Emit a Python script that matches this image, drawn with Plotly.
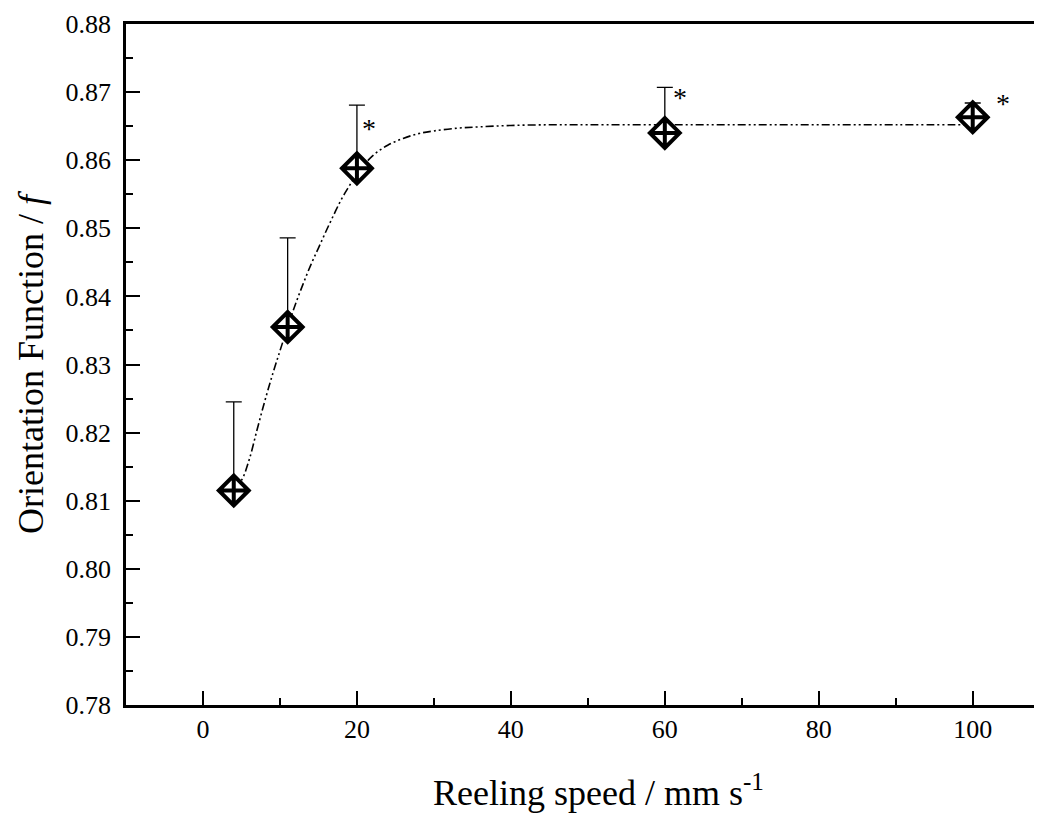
import plotly.graph_objects as go

# Measured data points
speed = [4, 11, 20, 60, 100]
orient = [0.8115, 0.8355, 0.8588, 0.8640, 0.8663]
err_up = [0.0130, 0.0131, 0.0093, 0.0067, 0.0021]

# Fit curve
fit_x = [4, 5, 6, 7, 8, 9, 10, 11, 12, 13, 14, 15, 16, 17, 18, 19, 20,
         22, 24, 26, 28, 30, 33, 36, 40, 45, 50, 60, 70, 80, 90, 100]
fit_y = [0.8118, 0.8130, 0.8160, 0.8203, 0.8245, 0.8284, 0.8320, 0.8355,
         0.8388, 0.8418, 0.8446, 0.8471, 0.8496, 0.8520, 0.8543, 0.8562,
         0.8580, 0.8606, 0.8622, 0.8632, 0.8639, 0.8643, 0.8647, 0.8649,
         0.8651, 0.8652, 0.8652, 0.8652, 0.8652, 0.8652, 0.8652, 0.8652]

# Significance markers
star_x = [21.6, 62.0, 103.9]
star_y = [0.8647, 0.8692, 0.8683]
star_text = ["*", "*", "*"]

y_ticks = [0.78, 0.79, 0.80, 0.81, 0.82, 0.83, 0.84, 0.85, 0.86, 0.87, 0.88]
x_ticks = [0, 20, 40, 60, 80, 100]

FONT = "Liberation Serif, Times New Roman, serif"
TICKFONT = dict(family=FONT, size=26, color="#000000")
TITLEFONT = dict(family=FONT, size=36, color="#000000")

fig = go.Figure()
fig.add_trace(go.Scatter(
    x=fit_x, y=fit_y, mode="lines",
    line=dict(color="black", width=1.6, shape="spline",
              dash="8px,3px,2px,3px,2px,3px"),
    hoverinfo="skip", showlegend=False))

fig.add_trace(go.Scatter(
    x=speed, y=orient, mode="markers",
    marker=dict(symbol="diamond-cross", size=23, color="white",
                line=dict(color="black", width=4)),
    error_y=dict(type="data", symmetric=False, array=err_up,
                 arrayminus=[0] * len(err_up), color="black",
                 thickness=1.3, width=8),
    showlegend=False))

for sx, sy, st in zip(star_x, star_y, star_text):
    fig.add_annotation(x=sx, y=sy, text=st, showarrow=False,
                       font=dict(family=FONT, size=28, color="#000000"))

# x-axis title (placed slightly right of the plot centre, as in the original)
fig.add_annotation(xref="paper", yref="paper", x=0.516, y=-0.126,
                   xanchor="center", yanchor="middle", showarrow=False,
                   text="Reeling speed / mm s<sup>-1</sup>", font=TITLEFONT)

fig.update_layout(
    width=1034, height=806,
    margin=dict(l=118, r=0, t=16, b=109),
    paper_bgcolor="white", plot_bgcolor="white",
    font=dict(family=FONT, color="#000000", size=26),
    xaxis=dict(
        range=[-10, 109], tickvals=x_ticks, ticks="inside", ticklen=14,
        tickwidth=2, tickcolor="black", showline=True, linewidth=2.5,
        linecolor="black", mirror=True, showgrid=False, zeroline=False,
        automargin=False,
        minor=dict(ticks="inside", ticklen=7, tickwidth=2,
                   tickcolor="black", dtick=10, tick0=0),
        tickfont=TICKFONT, ticklabelstandoff=-1),
    yaxis=dict(
        range=[0.78, 0.88], tickvals=y_ticks, tickformat=".2f",
        ticks="inside", ticklen=14, tickwidth=2, tickcolor="black",
        showline=True, linewidth=2.5, linecolor="black", showgrid=False,
        zeroline=False, automargin=False,
        minor=dict(ticks="inside", ticklen=7, tickwidth=2,
                   tickcolor="black", dtick=0.005, tick0=0.78),
        tickfont=TICKFONT, ticklabelstandoff=7,
        title=dict(text="Orientation Function / <i>f</i>",
                   font=TITLEFONT, standoff=11)),
)

fig.write_html("out.html")
